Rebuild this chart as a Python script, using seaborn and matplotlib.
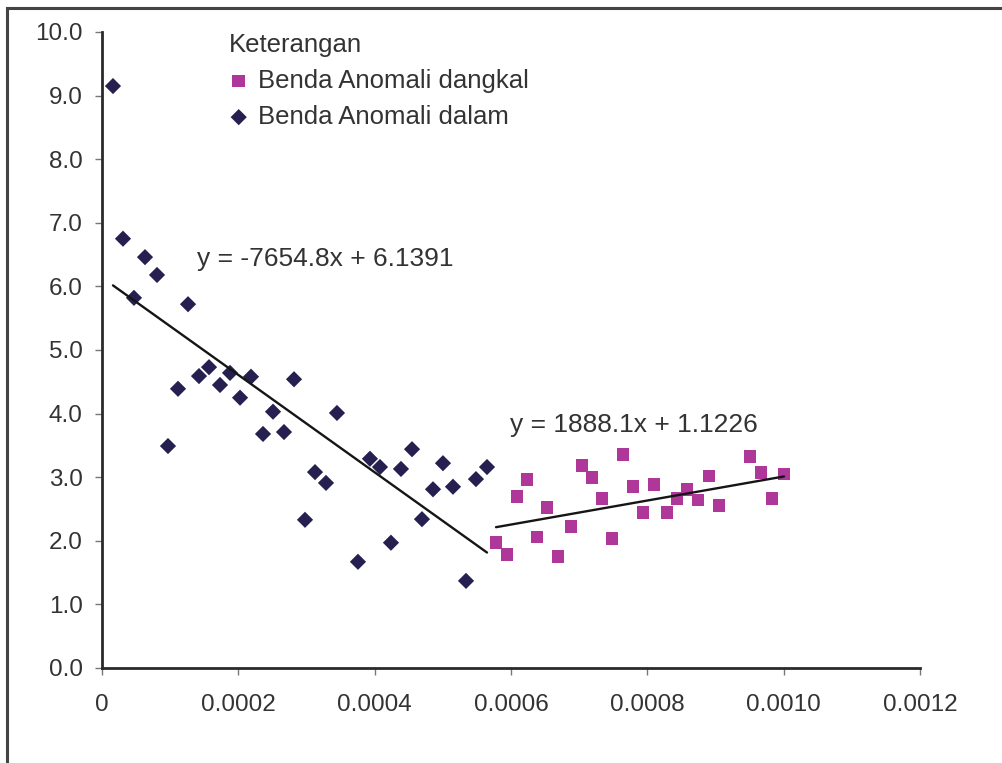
import numpy as np
import pandas as pd
import matplotlib
matplotlib.use("Agg")
import matplotlib.pyplot as plt
import seaborn as sns
from matplotlib.patches import Rectangle

# ---- data ----
dalam_x = [0.0000161, 0.0000308, 0.0000469, 0.0000631, 0.0000807, 0.0000968, 0.0001115,
           0.0001262, 0.0001423, 0.0001570, 0.0001731, 0.0001878, 0.0002025, 0.0002186,
           0.0002362, 0.0002509, 0.0002670, 0.0002817, 0.0002978, 0.0003125, 0.0003286,
           0.0003447, 0.0003755, 0.0003931, 0.0004078, 0.0004239, 0.0004386, 0.0004548,
           0.0004694, 0.0004856, 0.0005002, 0.0005149, 0.0005340, 0.0005486, 0.0005648]
dalam_y = [9.15, 6.75, 5.82, 6.46, 6.18, 3.49, 4.39,
           5.72, 4.59, 4.73, 4.45, 4.64, 4.25, 4.58,
           3.68, 4.03, 3.71, 4.54, 2.33, 3.08, 2.91,
           4.01, 1.67, 3.29, 3.16, 1.97, 3.13, 3.44,
           2.34, 2.81, 3.22, 2.85, 1.37, 2.97, 3.16]

dangkal_x = [0.0005780, 0.0005941, 0.0006088, 0.0006235, 0.0006381, 0.0006528, 0.0006689,
             0.0006880, 0.0007041, 0.0007188, 0.0007335, 0.0007482, 0.0007643, 0.0007790,
             0.0007937, 0.0008098, 0.0008289, 0.0008436, 0.0008582, 0.0008744, 0.0008905,
             0.0009052, 0.0009506, 0.0009667, 0.0009829, 0.0010005]
dangkal_y = [1.97, 1.78, 2.70, 2.96, 2.06, 2.52, 1.75,
             2.22, 3.18, 2.99, 2.66, 2.03, 3.36, 2.86,
             2.45, 2.89, 2.45, 2.66, 2.81, 2.64, 3.02,
             2.55, 3.33, 3.07, 2.67, 3.05]

# trend line coefficients as printed on the chart
dalam_slope, dalam_icpt = -7654.8, 6.1391
dangkal_slope, dangkal_icpt = 1888.1, 1.1226

x_ticks = [0, 0.0002, 0.0004, 0.0006, 0.0008, 0.0010, 0.0012]
x_tick_labels = ["0", "0.0002", "0.0004", "0.0006", "0.0008", "0.0010", "0.0012"]
y_ticks = [0, 1, 2, 3, 4, 5, 6, 7, 8, 9, 10]

label_dangkal = "Benda Anomali dangkal"
label_dalam = "Benda Anomali dalam"
legend_title = "Keterangan"

# ---- style ----
sns.set_theme(style="white")
plt.rcParams['font.family'] = ['Liberation Sans', 'DejaVu Sans']
TXT = "#333333"
C_DALAM = "#252050"
C_DANGKAL = "#b0379a"

fig = plt.figure(figsize=(10.02, 7.63), dpi=100)
ax = fig.add_axes([102/1002, 1 - 668/763, (920 - 102)/1002, (668 - 32)/763])

# outer frame (top and left edges visible)
fig.patches.append(Rectangle((7/1002, -0.1), 1.2, 1 - 8/763 + 0.1, transform=fig.transFigure,
                             fill=False, edgecolor="#444444", linewidth=2.2, zorder=0))

df_dangkal = pd.DataFrame({"x": dangkal_x, "y": dangkal_y})
df_dalam = pd.DataFrame({"x": dalam_x, "y": dalam_y})

sns.scatterplot(data=df_dangkal, x="x", y="y", ax=ax, marker="s", s=85,
                color=C_DANGKAL, edgecolor="none", label=label_dangkal, zorder=3)
sns.scatterplot(data=df_dalam, x="x", y="y", ax=ax, marker="D", s=68,
                color=C_DALAM, edgecolor="none", label=label_dalam, zorder=3)

# trend lines over each series' range
lx1 = np.array([min(dalam_x), max(dalam_x)])
lx2 = np.array([min(dangkal_x), max(dangkal_x)])
sns.lineplot(x=lx1, y=dalam_slope * lx1 + dalam_icpt, ax=ax, color="#151515",
             linewidth=1.7, zorder=4, legend=False)
sns.lineplot(x=lx2, y=dangkal_slope * lx2 + dangkal_icpt, ax=ax, color="#151515",
             linewidth=1.7, zorder=4, legend=False)

ax.text(0.0001394, 6.43, f"y = {dalam_slope}x + {dalam_icpt}", fontsize=19, color=TXT,
        va="center", ha="left")
ax.text(0.000598, 3.82, f"y = {dangkal_slope}x + {dangkal_icpt}", fontsize=19, color=TXT,
        va="center", ha="left")

ax.set_xlim(0, 0.0012)
ax.set_ylim(0, 10)
ax.set_xticks(x_ticks)
ax.set_xticklabels(x_tick_labels)
ax.set_yticks(y_ticks)
ax.set_yticklabels([f"{v:.1f}" for v in y_ticks])
ax.set_xlabel("")
ax.set_ylabel("")

for side in ["top", "right"]:
    ax.spines[side].set_visible(False)
for side in ["left", "bottom"]:
    ax.spines[side].set_color("#2a2a2a")
    ax.spines[side].set_linewidth(2.0)
ax.tick_params(axis="both", which="both", direction="out", length=5, width=1,
               color="#777777", labelsize=17.5, labelcolor=TXT, left=True, bottom=True)
ax.tick_params(axis="x", pad=14)
ax.tick_params(axis="y", pad=9)
ax.patch.set_alpha(0)

leg = ax.legend(loc="upper left", bbox_to_anchor=(0.142, 1.015), frameon=False,
                title=legend_title, fontsize=18.5, title_fontsize=18.5,
                handlelength=0.8, handletextpad=0.36, labelspacing=0.47, borderaxespad=0)
leg._legend_box.align = "left"
for t in leg.get_texts():
    t.set_color(TXT)
leg.get_title().set_color(TXT)

fig.savefig("out.png", dpi=100)
